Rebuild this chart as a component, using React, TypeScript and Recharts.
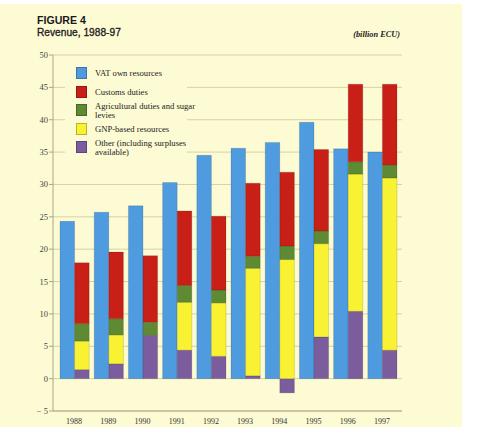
import React from 'react';
import { BarChart, Bar, XAxis, YAxis, CartesianGrid, Legend } from 'recharts';

// Community revenue by source, billion ECU
const years = ['1988', '1989', '1990', '1991', '1992', '1993', '1994', '1995', '1996', '1997'];
const vatOwnResources = [24.3, 25.7, 26.7, 30.3, 34.5, 35.6, 36.5, 39.6, 35.5, 35.0];
const customsDuties = [9.4, 10.3, 10.3, 11.5, 11.4, 11.3, 11.4, 12.6, 12.0, 12.5];
const agriculturalDuties = [2.7, 2.5, 2.0, 2.6, 2.0, 1.85, 2.1, 1.95, 1.9, 2.0];
const gnpResources = [4.4, 4.45, 0, 7.4, 8.25, 16.6, 18.4, 14.4, 21.2, 26.6];
const otherResources = [1.4, 2.3, 6.7, 4.4, 3.45, 0.45, -2.2, 6.45, 10.4, 4.4];
const yTicks = [-5, 0, 5, 10, 15, 20, 25, 30, 35, 40, 45, 50];

const data = years.map((year, i) => ({
  year,
  vat: vatOwnResources[i],
  customs: customsDuties[i],
  agri: agriculturalDuties[i],
  gnp: gnpResources[i],
  other: otherResources[i],
}));

const COLORS = {
  vat: '#4f9be0',
  customs: '#c81f16',
  agri: '#5e8a33',
  gnp: '#f8f233',
  other: '#7b5c9c',
};

const legendItems = [
  { key: 'vat', lines: ['VAT own resources'] },
  { key: 'customs', lines: ['Customs duties'] },
  { key: 'agri', lines: ['Agricultural duties and sugar', 'levies'] },
  { key: 'gnp', lines: ['GNP-based resources'] },
  { key: 'other', lines: ['Other (including surpluses', 'available)'] },
];

const serif = '"Liberation Serif", "DejaVu Serif", serif';
const sans = '"Liberation Sans", Arial, sans-serif';
const bg = '#fdfbd3';
const gridColor = '#d6d2a6';
const axisColor = '#aaa688';

const LegendBox = () => (
  <div
    style={{
      fontFamily: serif,
      fontSize: 8.6,
      color: '#222',
      background: bg,
      paddingLeft: 11,
      paddingTop: 4,
      boxSizing: 'border-box',
      width: 122,
      height: 96,
    }}
  >
    {legendItems.map((item) => (
      <div
        key={item.key}
        style={{ display: 'flex', alignItems: 'center', height: 18.5 }}
      >
        <div
          style={{
            width: 11,
            height: 12,
            background: COLORS[item.key as keyof typeof COLORS],
            border: '0.5px solid rgba(0,0,0,0.25)',
            boxSizing: 'border-box',
            marginRight: 8,
            flexShrink: 0,
          }}
        />
        <div
          style={{
            lineHeight: item.lines.length > 1 ? '9px' : '10px',
            paddingTop: item.lines.length > 1 ? 1 : 0,
            whiteSpace: 'nowrap',
          }}
        >
          {item.lines.map((l, j) => (
            <div key={j}>{l}</div>
          ))}
        </div>
      </div>
    ))}
  </div>
);

const formatY = (v: number) => (v < 0 ? `\u2212 ${Math.abs(v)}` : `${v}`);

export default function App() {
  const barStroke = 'rgba(0,0,0,0.22)';
  return (
    <div style={{ position: 'fixed', left: 0, top: 0, width: 479, height: 427, background: '#ffffff' }}>
      <div style={{ position: 'absolute', left: 0, top: 4, width: 462, height: 423, background: bg }} />
      <svg width={479} height={50} style={{ position: 'absolute', left: 0, top: 0 }}>
        <text x={37} y={23.5} fontFamily={sans} fontWeight="bold" fontSize={10.6} fill="#1a1a1a">
          FIGURE 4
        </text>
        <text x={37} y={36} fontFamily={sans} fontSize={10.2} fill="#1a1a1a" stroke="#1a1a1a" strokeWidth={0.3}>
          Revenue, 1988-97
        </text>
        <text x={400} y={37} textAnchor="end" fontFamily={serif} fontStyle="italic" fontWeight="bold" fontSize={8.3} fill="#222">
          (billion ECU)
        </text>
      </svg>
      <div style={{ position: 'absolute', left: 0, top: 0 }}>
        <BarChart
          width={479}
          height={427}
          data={data}
          stackOffset="sign"
          barSize={14.6}
          barGap={0}
          margin={{ top: 55, right: 77, left: 0, bottom: 0 }}
        >
          <CartesianGrid yAxisId="l" vertical={false} stroke={gridColor} strokeWidth={1} />
          <XAxis
            dataKey="year"
            height={16}
            padding={{ left: 4, right: 3 }}
            axisLine={{ stroke: axisColor }}
            tickLine={false}
            tickSize={5}
            tickMargin={2}
            tick={{ fontFamily: serif, fontSize: 8, fill: '#333' }}
            interval={0}
          />
          <YAxis
            yAxisId="l"
            width={53}
            domain={[-5, 50]}
            ticks={yTicks}
            interval={0}
            tickFormatter={formatY}
            axisLine={{ stroke: axisColor }}
            tickLine={{ stroke: axisColor }}
            tickSize={4}
            tickMargin={1}
            tick={{ fontFamily: serif, fontSize: 8.5, fill: '#444' }}
          />
          <YAxis
            yAxisId="r"
            orientation="right"
            width={0}
            domain={[-5, 50]}
            ticks={yTicks}
            tick={false}
            tickLine={false}
            axisLine={{ stroke: axisColor }}
          />
          <Legend
            layout="vertical"
            align="center"
            verticalAlign="middle"
            content={() => <LegendBox />}
            wrapperStyle={{ position: 'absolute', left: 65, top: 60, width: 122, height: 96 }}
          />
          <Bar yAxisId="l" dataKey="vat" name="VAT own resources" stackId="vat" fill={COLORS.vat} stroke={barStroke} strokeWidth={0.6} isAnimationActive={false} />
          <Bar yAxisId="l" dataKey="other" name="Other (including surpluses available)" stackId="res" fill={COLORS.other} stroke={barStroke} strokeWidth={0.6} isAnimationActive={false} />
          <Bar yAxisId="l" dataKey="gnp" name="GNP-based resources" stackId="res" fill={COLORS.gnp} stroke={barStroke} strokeWidth={0.6} isAnimationActive={false} />
          <Bar yAxisId="l" dataKey="agri" name="Agricultural duties and sugar levies" stackId="res" fill={COLORS.agri} stroke={barStroke} strokeWidth={0.6} isAnimationActive={false} />
          <Bar yAxisId="l" dataKey="customs" name="Customs duties" stackId="res" fill={COLORS.customs} stroke={barStroke} strokeWidth={0.6} isAnimationActive={false} />
        </BarChart>
      </div>
    </div>
  );
}
